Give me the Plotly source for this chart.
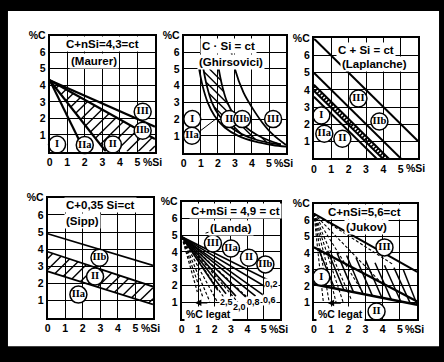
import numpy as np
import plotly.graph_objects as go

W, H = 444, 362

# ---------------- data ----------------
x_tick_vals = [0, 1, 2, 3, 4, 5]
x_tick_text = ["0", "1", "2", "3", "4", "5"]
y_tick_vals = [1, 2, 3, 4, 5, 6, 7]
y_tick_text = ["1", "2", "3", "4", "5", "6", "%C"]

titles = ["C+nSi=4,3=ct", "C · Si = ct", "C + Si = ct",
          "C+0,35 Si=ct", "C+mSi = 4,9 = ct", "C+nSi=5,6=ct"]
authors = ["(Maurer)", "(Ghirsovici)", "(Laplanche)", "(Sipp)", "(Landa)", "(Jukov)"]
title_si = [3.0, 2.6, 3.0, 3.0, 3.3, 2.95]
title_c = [6.5, 6.35, 6.3, 6.55, 6.45, 6.5]
author_si = [2.5, 2.75, 3.5, 2.0, 3.0, 3.05]
author_c = [5.45, 5.4, 5.5, 5.65, 5.45, 5.55]

# Maurer: lines from (0, 4.3)
maurer_c0 = 4.3
maurer_end_si = [2.0, 3.2, 6.0, 6.0]
maurer_end_c = [0.0, 0.0, 0.75, 1.5]
maurer_lbl = ["I", "IIa", "II", "IIb", "III"]
maurer_lbl_si = [0.42, 2.0, 3.6, 5.3, 5.3]
maurer_lbl_c = [0.42, 0.4, 0.42, 1.25, 2.4]

# Ghirsovici curves
ghir_a_si = [0.9, 1.1, 1.4, 1.8, 2.4, 3.2, 4.2, 5.2, 6.0]
ghir_a_c = [5.0, 4.0, 3.0, 2.2, 1.5, 1.0, 0.65, 0.45, 0.35]
ghir_b_si = [1.15, 1.35, 1.65, 2.05, 2.65, 3.4, 4.3, 5.2, 5.7]
ghir_b_c = [5.0, 4.0, 3.0, 2.25, 1.6, 1.1, 0.75, 0.55, 0.48]
ghir_c_si = [2.05, 2.25, 2.55, 3.0, 3.6, 4.3, 5.0, 5.7]
ghir_c_c = [5.0, 4.0, 3.0, 2.2, 1.55, 1.05, 0.72, 0.48]
ghir_d_si = [2.75, 3.0, 3.5, 4.0, 4.6, 5.2, 6.0]
ghir_d_c = [6.3, 5.0, 3.6, 2.7, 1.8, 1.1, 0.45]
ghir_lbl = ["I", "IIa", "II", "IIb", "III"]
ghir_lbl_si = [0.5, 0.48, 2.67, 3.43, 5.24]
ghir_lbl_c = [2.0, 1.0, 2.0, 2.0, 2.0]
ghir_leader_si = [0.78, 2.0]
ghir_leader_c = [1.15, 2.1]

# Laplanche: C + Si = const lines
lap_const = [7.0, 5.0, 4.3, 3.95, 3.6]
lap_lbl = ["I", "IIa", "II", "III", "IIb"]
lap_lbl_si = [0.43, 0.6, 1.64, 2.56, 3.77]
lap_lbl_c = [2.5, 1.44, 1.15, 3.5, 2.15]

# Sipp
sipp_line_si = [0.0, 6.0]
sipp_top_c = [4.9, 3.05]
sipp_band_hi_c = [3.85, 1.82]
sipp_band_lo_c = [2.7, 0.78]
sipp_lbl = ["IIb", "II", "IIa"]
sipp_lbl_si = [2.95, 2.7, 1.75]
sipp_lbl_c = [3.5, 2.4, 1.35]

# Landa: fan from (0, 4.9)
landa_c0 = 4.9
landa_solid_si = [5.3, 5.2, 5.0, 4.5, 3.9, 3.3, 2.7, 2.2]
landa_solid_c = [2.3, 1.85, 1.4, 1.35, 1.3, 1.35, 1.5, 1.7]
landa_dash_si = [4.2, 3.5, 2.8, 2.2, 1.7, 1.3, 0.95]
landa_dash_c = [1.1, 0.9, 0.95, 0.95, 1.05, 1.25, 1.6]
landa_num = ["0,2", "0,6", "0,8", "2,0", "2,5"]
landa_num_si = [5.45, 5.35, 4.4, 3.55, 2.7]
landa_num_c = [2.1, 1.1, 0.98, 0.72, 0.98]
landa_lbl = ["III", "IIa", "II", "IIb"]
landa_lbl_si = [1.9, 3.0, 4.1, 5.1]
landa_lbl_c = [4.5, 4.2, 3.65, 3.25]
landa_leader_si = [1.45, 2.05]
landa_leader_c = [5.12, 5.3]

# Jukov
jukov_c0 = 6.4
jukov_line_si = [0.0, 6.0]
jukov_top_c = [6.4, 2.85]
jukov_up_c = [4.35, 1.05]
jukov_lo_c = [2.1, 0.85]
jukov_hatch_lim_c = [4.35, 2.75]
jukov_hatch_top_si = [0.25, 0.8, 1.35, 1.9, 2.45, 3.0, 3.55, 4.1, 4.65, 5.2]
jukov_hatch_bot_si = [1.2, 1.75, 2.3, 2.85, 3.4, 3.95, 4.5, 5.05, 5.6, 6.0]
jukov_dash_si = [0.55, 0.9, 1.3, 1.7, 2.2, 2.9, 3.9, 4.6]
jukov_dash_c = [1.0, 0.95, 0.95, 1.0, 1.1, 1.5, 2.2, 3.3]
jukov_lbl = ["III", "I", "II"]
jukov_lbl_si = [4.1, 0.43, 3.64]
jukov_lbl_c = [4.34, 2.54, 0.44]

legat_text = "%C legat"

# ---------------- layout helpers ----------------
boxes = [(47, 153, 30, 148), (182, 285, 30, 149), (313, 418, 33, 155),
         (45, 151, 195, 317), (180, 279, 199, 318), (313, 417, 201, 318)]

fig = go.Figure()
BLACK = "black"
TICKFONT = dict(family="Liberation Sans", size=10.5, color=BLACK, weight="bold")
TITLEFONT = dict(family="Liberation Sans", size=11.5, color=BLACK, weight="bold")
NUMFONT = dict(family="Liberation Sans", size=9, color=BLACK, weight="bold")
LBLFONT = dict(family="Liberation Serif", size=10.5, color=BLACK, weight="bold")


def ax(i):
    return ("x" if i == 0 else f"x{i+1}"), ("y" if i == 0 else f"y{i+1}")


def line(i, xs, ys, width=2.0, dash="solid", shape="linear"):
    xa, ya = ax(i)
    fig.add_trace(go.Scatter(x=xs, y=ys, mode="lines", xaxis=xa, yaxis=ya,
                             line=dict(color=BLACK, width=width, dash=dash, shape=shape),
                             hoverinfo="skip", showlegend=False, cliponaxis=True,
                             connectgaps=False))


def hatch(i, poly_si, poly_c, angle_deg=45.0, spacing=7.0, width=1.3):
    """Parallel hatch strokes clipped to a polygon (angle measured on screen)."""
    l, r, t, b = boxes[i]
    sx, sy = (r - l) / 6.0, (b - t) / 7.0
    px, py = np.asarray(poly_si, float) * sx, np.asarray(poly_c, float) * sy
    a = np.deg2rad(angle_deg)
    ca, sa = np.cos(a), np.sin(a)
    u = px * ca + py * sa
    v = -px * sa + py * ca
    n = len(u)
    xs, ys = [], []
    for v0 in np.arange(v.min() + spacing / 2, v.max(), spacing):
        cuts = []
        for k in range(n):
            v1, v2 = v[k], v[(k + 1) % n]
            if (v1 - v0) * (v2 - v0) < 0:
                f = (v0 - v1) / (v2 - v1)
                cuts.append(u[k] + f * (u[(k + 1) % n] - u[k]))
        cuts.sort()
        for j in range(0, len(cuts) - 1, 2):
            for uu in (cuts[j], cuts[j + 1]):
                xs.append((uu * ca - v0 * sa) / sx)
                ys.append((uu * sa + v0 * ca) / sy)
            xs.append(None)
            ys.append(None)
    line(i, xs, ys, width)


def labels(i, txt, xs, ys):
    xa, ya = ax(i)
    fig.add_trace(go.Scatter(x=xs, y=ys, mode="markers+text", text=txt, xaxis=xa, yaxis=ya,
                             textposition="middle center", textfont=LBLFONT,
                             marker=dict(size=17, color="white", line=dict(color=BLACK, width=1.5)),
                             hoverinfo="skip", showlegend=False, cliponaxis=False))


# Maurer
hatch(0, [0, maurer_end_si[1], maurer_end_si[2], maurer_end_si[2]],
      [maurer_c0, maurer_end_c[1], 0, maurer_end_c[2]], 45, 8, 1.4)
for s, c in zip(maurer_end_si, maurer_end_c):
    line(0, [0, s], [maurer_c0, c], 2.2)
labels(0, maurer_lbl, maurer_lbl_si, maurer_lbl_c)

# Ghirsovici
hatch(1, ghir_b_si + ghir_c_si[::-1], ghir_b_c + ghir_c_c[::-1], -45, 6.0, 1.4)
for xs, ys in [(ghir_a_si, ghir_a_c), (ghir_b_si, ghir_b_c), (ghir_c_si, ghir_c_c), (ghir_d_si, ghir_d_c)]:
    line(1, xs, ys, 1.8, shape="spline")
line(1, ghir_leader_si, ghir_leader_c, 1.0)
labels(1, ghir_lbl, ghir_lbl_si, ghir_lbl_c)

# Laplanche
hatch(2, [0, lap_const[2], lap_const[3], 0], [lap_const[2], 0, 0, lap_const[3]], 45, 3.2, 1.6)
for k in lap_const:
    line(2, [0, 6], [k, k - 6], 2.0)
labels(2, lap_lbl, lap_lbl_si, lap_lbl_c)

# Sipp
hatch(3, sipp_line_si + sipp_line_si[::-1], sipp_band_hi_c + sipp_band_lo_c[::-1], 45, 8, 1.4)
for cc in [sipp_top_c, sipp_band_hi_c, sipp_band_lo_c]:
    line(3, sipp_line_si, cc, 1.8)
labels(3, sipp_lbl, sipp_lbl_si, sipp_lbl_c)

# Landa
for s, c in zip(landa_solid_si, landa_solid_c):
    line(4, [0, s], [landa_c0, c], 1.6)
for s, c in zip(landa_dash_si, landa_dash_c):
    line(4, [0, s], [landa_c0, c], 1.2, dash="3px,2px")
line(4, landa_leader_si, landa_leader_c, 1.0)
labels(4, landa_lbl, landa_lbl_si, landa_lbl_c)

# Jukov
for ts, bs in zip(jukov_hatch_top_si, jukov_hatch_bot_si):
    tc = np.interp(ts, jukov_line_si, jukov_hatch_lim_c)
    bc = np.interp(bs, jukov_line_si, jukov_lo_c)
    line(5, [ts, bs], [tc, bc], 1.5)
for s, c in zip(jukov_dash_si, jukov_dash_c):
    line(5, [0, s], [jukov_c0, c], 1.1, dash="3px,2px")
line(5, jukov_line_si, jukov_top_c, 2.0)
line(5, jukov_line_si, jukov_up_c, 2.4)
line(5, jukov_line_si, jukov_lo_c, 2.4)
labels(5, jukov_lbl, jukov_lbl_si, jukov_lbl_c)

annotations = []
for i, (l, r, t, b) in enumerate(boxes):
    xa, ya = ax(i)
    key = "" if i == 0 else str(i + 1)
    fig.layout["xaxis" + key] = dict(
        domain=[l / W, r / W], range=[0, 6], anchor=ya,
        tickvals=x_tick_vals, ticktext=x_tick_text, tickfont=TICKFONT,
        showgrid=True, gridcolor=BLACK, gridwidth=1.2, zeroline=False,
        showline=True, linecolor=BLACK, linewidth=2, mirror=True, ticks="",
        fixedrange=True)
    fig.layout["yaxis" + key] = dict(
        domain=[1 - b / H, 1 - t / H], range=[0, 7], anchor=xa,
        tickvals=y_tick_vals, ticktext=y_tick_text, tickfont=TICKFONT,
        showgrid=True, gridcolor=BLACK, gridwidth=1.2, zeroline=False,
        showline=True, linecolor=BLACK, linewidth=2, mirror=True, ticks="",
        fixedrange=True)
    annotations.append(dict(xref=xa, yref=ya, x=5.2, y=0, yshift=-10, xanchor="left",
                            text="%Si", showarrow=False, font=TICKFONT))
    annotations.append(dict(xref=xa, yref=ya, x=title_si[i], y=title_c[i], text=titles[i],
                            showarrow=False, font=TITLEFONT, bgcolor="white", borderpad=1))
    annotations.append(dict(xref=xa, yref=ya, x=author_si[i], y=author_c[i], text=authors[i],
                            showarrow=False, font=TITLEFONT, bgcolor="white", borderpad=1))

for i in (4, 5):
    xa, ya = ax(i)
    annotations.append(dict(xref=xa, yref=ya, x=0.12, y=0.3, xanchor="left", text=legat_text,
                            showarrow=False, font=TICKFONT, bgcolor="white", borderpad=1))
    annotations.append(dict(xref=xa, yref=ya, x=0.8, y=0.95, ax=1.65, ay=0.95, axref=xa, ayref=ya,
                            text="", showarrow=True, arrowhead=2, arrowsize=1, arrowwidth=1.3,
                            arrowcolor=BLACK))

for t, s, c in zip(landa_num, landa_num_si, landa_num_c):
    annotations.append(dict(xref="x5", yref="y5", x=s, y=c, text=t, showarrow=False,
                            font=NUMFONT, bgcolor="white", borderpad=0))

fig.update_layout(
    width=W, height=H, margin=dict(l=0, r=0, t=0, b=0),
    paper_bgcolor="black", plot_bgcolor="white", showlegend=False,
    annotations=annotations,
    shapes=[dict(type="rect", xref="paper", yref="paper", x0=5 / W, x1=439 / W,
                 y0=1 - 346 / H, y1=1 - 5 / H, fillcolor="white", line=dict(width=0),
                 layer="below")])

fig.write_html("out.html")
